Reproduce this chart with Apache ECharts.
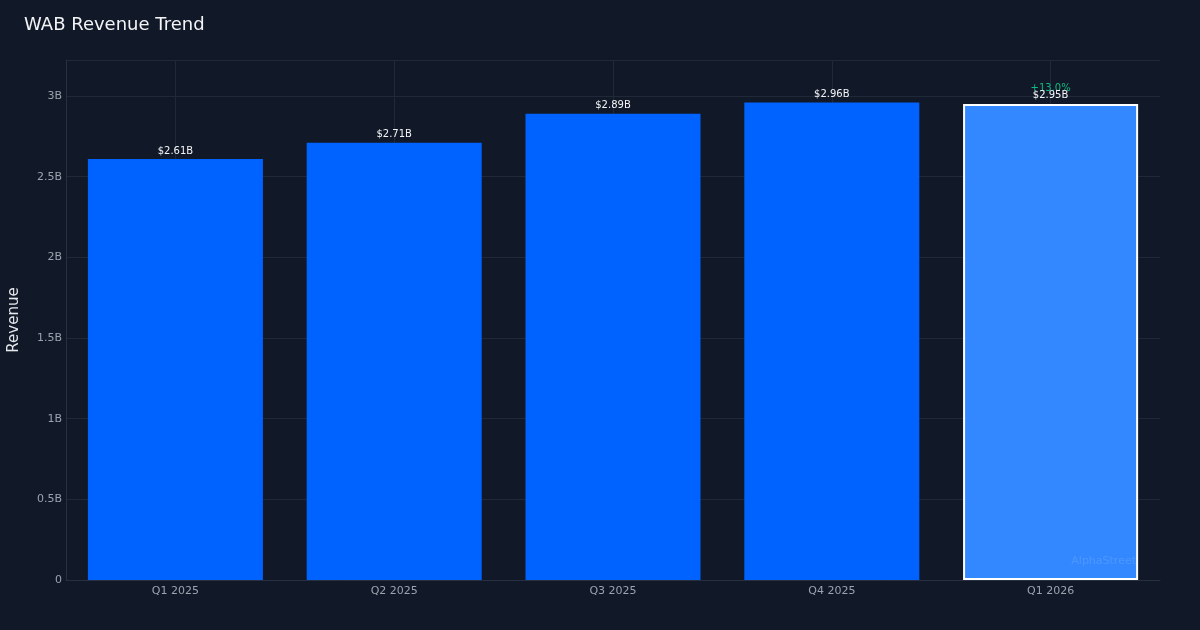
<!DOCTYPE html>
<html><head><meta charset="utf-8">
<script src="https://cdn.jsdelivr.net/npm/echarts@6/dist/echarts.min.js"></script>
<style>html,body{margin:0;padding:0;background:#111827;}#c{width:1200px;height:630px;}</style>
</head><body><div id="c"></div>
<script>
var categories = ['Q1 2025', 'Q2 2025', 'Q3 2025', 'Q4 2025', 'Q1 2026'];
var revenue = [2.61, 2.71, 2.89, 2.96, 2.95];
var valueLabels = ['$2.61B', '$2.71B', '$2.89B', '$2.96B', '$2.95B'];
var growthLabel = '+13.0%';
var yTicks = [0, 0.5, 1, 1.5, 2, 2.5, 3];

var font = 'DejaVu Sans';
var chart = echarts.init(document.getElementById('c'), null, {renderer: 'canvas'});
var lastIdx = revenue.length - 1;
var barData = revenue.map(function (v, i) {
  if (i === lastIdx) {
    return {
      value: v,
      itemStyle: {color: '#3388ff', borderColor: '#ffffff', borderWidth: 2},
      label: {
        formatter: '{g|' + growthLabel + '}\n{w|' + valueLabels[i] + '}',
        rich: {
          g: {color: '#10b981', fontSize: 10, fontFamily: font, lineHeight: 1},
          w: {color: '#f3f4f6', fontSize: 10, fontFamily: font, lineHeight: 12}
        }
      }
    };
  }
  return v;
});

chart.setOption({
  backgroundColor: '#111827',
  animation: false,
  title: {
    text: 'WAB Revenue Trend', left: 19, top: 11,
    textStyle: {color: '#f3f4f6', fontSize: 18, fontWeight: 'normal', fontFamily: font}
  },
  grid: {left: 66, right: 40, top: 60, bottom: 50, containLabel: false, outerBoundsMode: 'none'},
  xAxis: {
    type: 'category', data: categories,
    axisLine: {show: true, lineStyle: {color: '#263041'}},
    axisTick: {show: false},
    axisLabel: {color: '#9ca3af', fontSize: 11, fontFamily: font, margin: 6},
    splitLine: {show: false}
  },
  yAxis: {
    type: 'value', min: 0, max: 3.2233, interval: 0.5,
    name: 'Revenue', nameLocation: 'middle', nameGap: 44,
    nameTextStyle: {color: '#e5e7eb', fontSize: 15, fontFamily: font},
    axisLine: {show: true, lineStyle: {color: '#263041'}},
    axisTick: {show: false},
    axisLabel: {
      color: '#9ca3af', fontSize: 11, fontFamily: font, margin: 4,
      formatter: function (v) {
        if (yTicks.indexOf(v) < 0) return '';
        return v === 0 ? '0' : v + 'B';
      }
    },
    splitLine: {show: true, lineStyle: {color: '#1f2937', width: 1}}
  },
  series: [
    {
      type: 'line', data: [], z: 1, silent: true,
      markLine: {
        z: 1, silent: true, symbol: 'none', label: {show: false},
        lineStyle: {color: '#1f2937', type: 'solid', width: 1},
        data: categories.map(function (c) { return {xAxis: c}; })
      }
    },
    {
      type: 'bar', data: barData, z: 2, barWidth: '80%',
      itemStyle: {color: '#0062ff'},
      label: {
        show: true, position: 'top', distance: 3,
        color: '#f3f4f6', fontSize: 10, fontFamily: font,
        formatter: function (p) { return valueLabels[p.dataIndex]; }
      }
    }
  ],
  graphic: [{
    type: 'text', right: 64, top: 556, z: 10,
    style: {text: 'AlphaStreet', fill: 'rgba(255,255,255,0.12)', fontSize: 11, fontFamily: font}
  }]
});
</script></body></html>
